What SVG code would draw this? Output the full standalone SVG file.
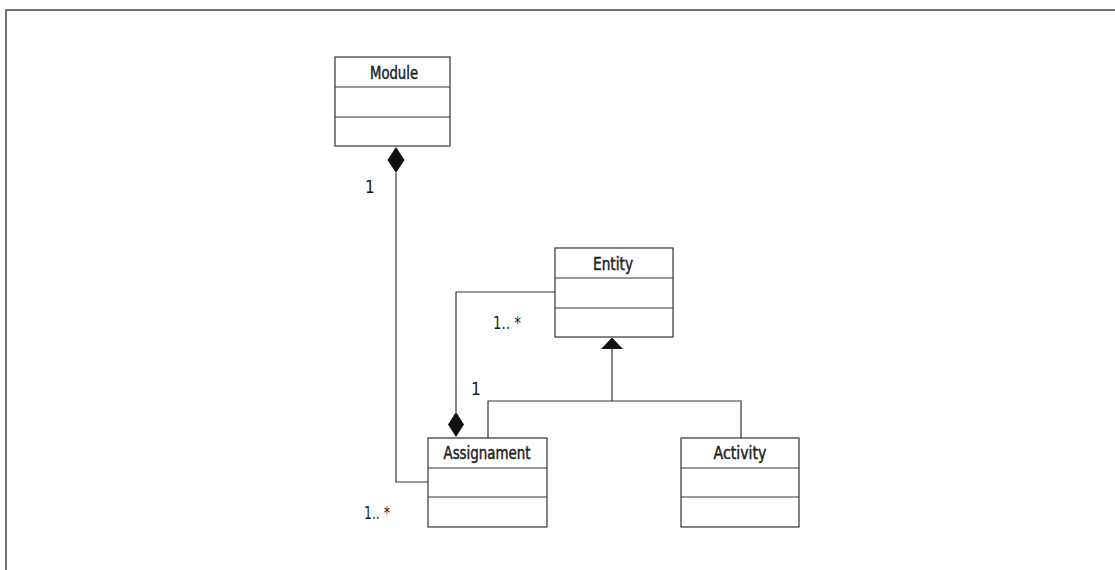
<svg xmlns="http://www.w3.org/2000/svg" width="1115" height="570" viewBox="0 0 1115 570">
<style>
.box{fill:#fff;stroke:#333;stroke-width:1.2}
.div{stroke:#333;stroke-width:1.2}
.name{font-family:"Liberation Sans Narrow","DejaVu Sans Condensed","Liberation Sans",sans-serif;font-size:17px;fill:#222;stroke:#222;stroke-width:0.45;text-anchor:middle}
.mult{font-family:"Liberation Sans Narrow","DejaVu Sans Condensed","Liberation Sans",sans-serif;font-size:17px;fill:#1a1a1a}
.conn{fill:none;stroke:#333;stroke-width:1.2}
.head{fill:#111;stroke:none}
</style>
<rect width="1115" height="570" fill="#fff"/>
<path d="M6 580 V10 H1125" fill="none" stroke="#444" stroke-width="1.5"/>
<g id="connectors">
<path class="conn" d="M396 173 V482 H428"/>
<path class="head" d="M396 147 L404.5 160 L396 173 L387.5 160 Z"/>
<path class="conn" d="M555 292 H456 V412"/>
<path class="head" d="M456 412 L464 424.5 L456 437 L448 424.5 Z"/>
<path class="conn" d="M612 349 V401 M488 438 V401 H741 V438"/>
<path class="head" d="M612 337.5 L623 349 L601 349 Z"/>
<text class="mult" x="365" y="193">1</text>
<text class="mult" x="493" y="329" textLength="28" lengthAdjust="spacingAndGlyphs">1.. *</text>
<text class="mult" x="471" y="395">1</text>
<text class="mult" x="364" y="519" textLength="26" lengthAdjust="spacingAndGlyphs">1.. *</text>
</g>
<g id="Module">
<rect class="box" x="335" y="57" width="115" height="89"/>
<path class="div" d="M335 87 H450 M335 117 H450"/>
<text class="name" x="394" y="79" textLength="48" lengthAdjust="spacingAndGlyphs">Module</text>
</g>
<g id="Entity">
<rect class="box" x="555" y="248" width="118" height="89"/>
<path class="div" d="M555 278 H673 M555 308 H673"/>
<text class="name" x="613" y="270" textLength="40" lengthAdjust="spacingAndGlyphs">Entity</text>
</g>
<g id="Assignament">
<rect class="box" x="428" y="438" width="119" height="89"/>
<path class="div" d="M428 468 H547 M428 497 H547"/>
<text class="name" x="487" y="459" textLength="87" lengthAdjust="spacingAndGlyphs">Assignament</text>
</g>
<g id="Activity">
<rect class="box" x="681" y="438" width="118" height="89"/>
<path class="div" d="M681 468 H799 M681 497 H799"/>
<text class="name" x="740" y="459" textLength="53" lengthAdjust="spacingAndGlyphs">Activity</text>
</g>
</svg>
